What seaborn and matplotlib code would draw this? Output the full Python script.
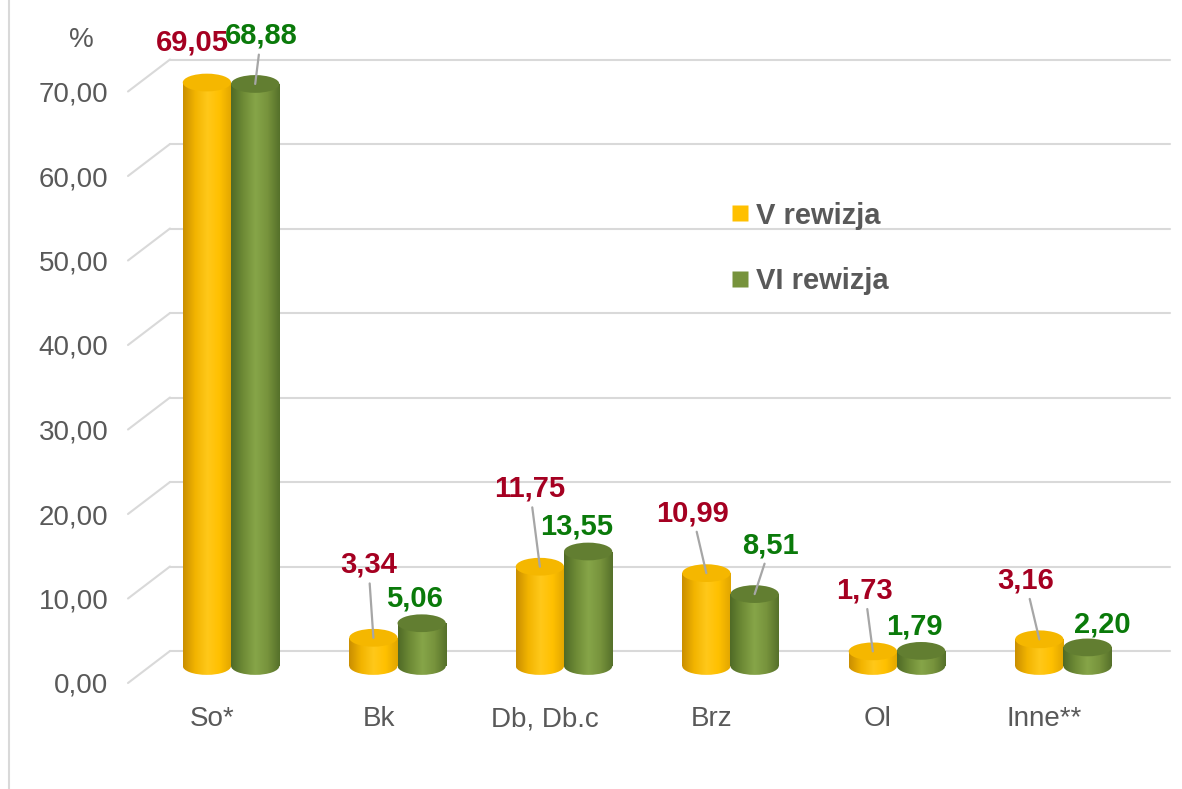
import numpy as np
import pandas as pd
import matplotlib
matplotlib.use("Agg")
import matplotlib.pyplot as plt
import matplotlib.transforms as mtransforms
import seaborn as sns
from matplotlib.patches import Ellipse
from matplotlib.colors import LinearSegmentedColormap
from matplotlib.lines import Line2D

# Dane
categories = ['So*', 'Bk', 'Db, Db.c', 'Brz', 'Ol', 'Inne**']
v_rewizja = [69.05, 3.34, 11.75, 10.99, 1.73, 3.16]
vi_rewizja = [68.88, 5.06, 13.55, 8.51, 1.79, 2.20]
series = ['V rewizja', 'VI rewizja']
y_ticks = [0, 10, 20, 30, 40, 50, 60, 70]

df = pd.DataFrame({
    'Kategoria': categories * 2,
    'Wartosc': v_rewizja + vi_rewizja,
    'Rewizja': [series[0]] * len(categories) + [series[1]] * len(categories),
})

# kolory: baza, gradient walca, wieczko, etykieta
colors = {'V rewizja': '#FFC000', 'VI rewizja': '#77933C'}
shades = {'V rewizja': ['#C98E00', '#F2B400', '#FFC81A', '#FFC000', '#E0A500'],
          'VI rewizja': ['#4F6A26', '#6E8B36', '#86A548', '#77933C', '#55702A']}
caps = {'V rewizja': '#F5B700', 'VI rewizja': '#627E31'}
label_colors = {'V rewizja': '#A50021', 'VI rewizja': '#0A7A0A'}

# przesuniecia etykiet (px) i czy jest linia odniesienia
offsets = {
    'V rewizja': [(-15, 40, False), (-5, 73, True), (-10, 78, True),
                  (-14, 60, True), (-8, 61, True), (-14, 59, True)],
    'VI rewizja': [(6, 48, True), (-7, 25, False), (-12, 25, False),
                   (16, 49, True), (-7, 24, False), (15, 23, False)],
}

sns.set_theme(style='white')
plt.rcParams['font.family'] = ['Liberation Sans', 'DejaVu Sans']

W, H = 1182, 789
fig = plt.figure(figsize=(W / 100, H / 100), dpi=100)
# os: od 128 px do 1170 px, zero slupkow na 666 px, 8.45 px na jednostke
ax = fig.add_axes([128 / W, 1 - 666 / H, 1042 / W, 591.5 / H])

sns.barplot(data=df, x='Kategoria', y='Wartosc', hue='Rewizja',
            palette=colors, width=0.58, gap=0, legend=False, ax=ax,
            order=categories, hue_order=series, saturation=1)

xlim = (-0.619, 5.640)
ax.set_xlim(xlim)
ax.set_ylim(0, 70)
cap_h = 2.1

for cont, name in zip(ax.containers, series):
    cmap = LinearSegmentedColormap.from_list(name, shades[name])
    grad = np.linspace(0, 1, 256).reshape(1, -1)
    for i, bar in enumerate(cont):
        x = bar.get_x()
        w = bar.get_width()
        h = bar.get_height()
        bar.set_edgecolor('none')
        im = ax.imshow(grad, cmap=cmap, extent=[x, x + w, 0, h], aspect='auto',
                       zorder=bar.get_zorder() + 0.1)
        im.set_clip_path(bar)
        # zaokraglony spod walca
        bottom = Ellipse((x + w / 2, 0), w, cap_h, facecolor='none',
                         edgecolor='none', clip_on=False)
        ax.add_patch(bottom)
        im2 = ax.imshow(grad, cmap=cmap, extent=[x, x + w, -cap_h / 2, 0],
                        aspect='auto', zorder=bar.get_zorder() + 0.1)
        im2.set_clip_path(bottom)
        im2.set_clip_box(fig.bbox)
        top = Ellipse((x + w / 2, h), w, cap_h, facecolor=caps[name],
                      edgecolor='none', zorder=bar.get_zorder() + 0.2, clip_on=False)
        ax.add_patch(top)

        dx, dy, leader = offsets[name][i]
        txt = f"{h:.2f}".replace('.', ',')
        arrow = None
        if leader:
            arrow = dict(arrowstyle='-', color='#A6A6A6', lw=1.6,
                         shrinkA=1, shrinkB=0)
        ax.annotate(txt, xy=(x + w / 2, h), xytext=(dx * 0.72, dy * 0.72),
                    textcoords='offset points', ha='center', va='center',
                    fontsize=21, fontweight='bold', color=label_colors[name],
                    arrowprops=arrow, zorder=5, annotation_clip=False)

ax.set_xlim(xlim)
ax.set_ylim(0, 70)

# linie siatki "3D": tylna sciana + skos do przodu
back = mtransforms.ScaledTranslation(0, 15 / 100, fig.dpi_scale_trans)
front = mtransforms.ScaledTranslation(0, -17 / 100, fig.dpi_scale_trans)
ytr = ax.get_yaxis_transform()
depth = 42 / 1042
for t in y_ticks:
    ax.add_line(Line2D([depth, 1], [t, t], transform=ytr + back,
                       color='#D9D9D9', lw=1.5, zorder=0.5, clip_on=False))
    p0 = (ytr + front).transform((0, t))
    p1 = (ytr + back).transform((depth, t))
    ax.add_line(Line2D([p0[0], p1[0]], [p0[1], p1[1]], transform=None,
                       color='#D9D9D9', lw=1.5, zorder=0.5, clip_on=False))

ax.set_yticks(y_ticks)
ax.set_yticklabels([f"{t:.2f}".replace('.', ',') for t in y_ticks])
for s in ax.spines.values():
    s.set_visible(False)
ax.grid(False)
ax.tick_params(axis='y', length=0, pad=14, labelsize=20, labelcolor='#595959')
ax.tick_params(axis='x', length=0, pad=29, labelsize=20, labelcolor='#595959')
ax.set_xlabel('')
ax.set_ylabel('')

# przesuniecie etykiet osi (po tick_params, bo pad resetuje transformacje)
for lab in ax.get_yticklabels():
    lab.set_transform(lab.get_transform() + front)
xshift = mtransforms.ScaledTranslation(-19 / 100, 0, fig.dpi_scale_trans)
for lab in ax.get_xticklabels():
    lab.set_transform(lab.get_transform() + xshift)

fig.text(81 / W, 1 - 40 / H, '%', fontsize=20, color='#595959',
         ha='center', va='center')

handles = [Line2D([0], [0], marker='s', linestyle='none', markersize=11,
                  markerfacecolor=colors[s], markeredgecolor='none') for s in series]
leg = fig.legend(handles, series, loc='center left',
                 bbox_to_anchor=(730 / W, 1 - 248.5 / H), frameon=False,
                 labelspacing=1.3, handletextpad=0.2, handlelength=0.7,
                 borderpad=0, borderaxespad=0,
                 prop={'size': 21, 'weight': 'bold'})
for t in leg.get_texts():
    t.set_color('#595959')

fig.add_artist(Line2D([8.5 / W, 8.5 / W], [0.0, 1.0], color='#D9D9D9', lw=1.5))

fig.savefig('out.png', dpi=100)
